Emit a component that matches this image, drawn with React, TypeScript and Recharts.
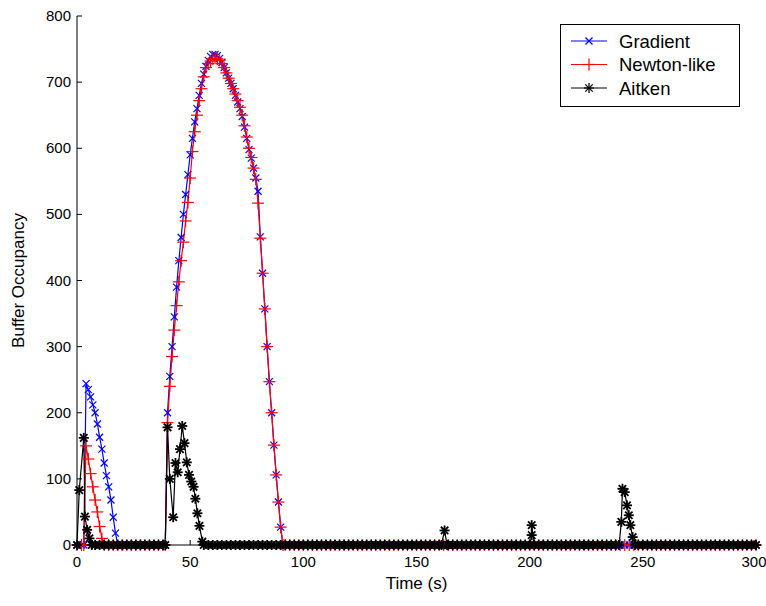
import React from 'react';
import { LineChart, Line, XAxis, YAxis, Legend } from 'recharts';

// quiet stretches were only logged every 2 s
const QUIET_STEP = 2;
const T_END = 300;

const xTicks = [0, 50, 100, 150, 200, 250, 300];
const yTicks = [0, 100, 200, 300, 400, 500, 600, 700, 800];

// Gradient, 1 s samples while the buffer is busy
const gradientEarlyStart = 3;
const gradientEarly = [0, 244, 235, 224, 212, 200, 183, 163, 145, 124, 105, 88, 68, 42, 18, 0];
const gradientMainStart = 39;
const gradientMain = [
  0, 200, 255, 300, 345, 390, 430, 465, 500, 530, 560, 590, 615, 640, 660, 680, 698, 712, 724, 733,
  739, 742, 742, 740, 736, 730, 722, 714, 706, 698, 690, 680, 670, 660, 648, 632, 615, 598, 585, 570,
  555, 535, 466, 411, 357, 300, 247, 200, 151, 106, 65, 27, 0,
];

// Newton-like
const newtonEarlyStart = 3;
const newtonEarly = [0, 150, 130, 108, 88, 68, 50, 28, 10, 0];
const newtonMainStart = 39;
const newtonMain = [
  0, 185, 240, 285, 325, 362, 398, 430, 458, 490, 518, 555, 595, 625, 650, 672, 690, 708, 722, 728,
  732, 735, 736, 735, 733, 728, 722, 714, 706, 698, 690, 682, 672, 662, 650, 634, 617, 600, 586, 570,
  553, 517, 464, 411, 357, 300, 247, 200, 151, 106, 65, 27, 0,
];

// Aitken, [time, buffer] - irregular sample times
const aitkenEarly = [[0, 0], [1, 83], [3, 162], [3.5, 43], [4.5, 23], [5.5, 10], [6.5, 0]];
const aitkenMain = [
  [39, 0], [40, 178], [41, 100], [42.5, 42], [43.5, 124], [44.5, 110], [45.5, 145], [46.5, 180],
  [47.5, 154], [48.5, 125], [49.5, 106], [50.5, 96], [51.5, 88], [52.3, 70], [53.2, 48], [54.1, 29],
  [55.4, 5], [56, 0],
];
const aitkenSpike1 = [[161, 0], [162.4, 22], [163.5, 0]];
const aitkenSpike2 = [[200, 0], [200.9, 15], [200.9, 30], [202, 0]];
const aitkenSpike3 = [[239.5, 0], [240.5, 35], [241, 85], [242, 80], [243, 60], [243.8, 45], [244.5, 30], [245.5, 12], [246.5, 0]];

type Pt = { t: number; v: number };

const fromRun = (start: number, values: number[]): Pt[] => values.map((v, i) => ({ t: start + i, v }));
const fromPairs = (pairs: number[][]): Pt[] => pairs.map(([t, v]) => ({ t, v }));

// zero samples outside the busy periods
const withQuiet = (bursts: Pt[][]): Pt[] => {
  const spans = bursts.map((b) => [b[0].t, b[b.length - 1].t]);
  const quiet: Pt[] = [];
  for (let t = 0; t <= T_END; t += QUIET_STEP) {
    if (!spans.some(([a, b]) => t >= a && t <= b)) quiet.push({ t, v: 0 });
  }
  return [...quiet, ...bursts.flat()].sort((a, b) => a.t - b.t);
};

const gradientData = withQuiet([fromRun(gradientEarlyStart, gradientEarly), fromRun(gradientMainStart, gradientMain)]);
const newtonData = withQuiet([fromRun(newtonEarlyStart, newtonEarly), fromRun(newtonMainStart, newtonMain)]);
const aitkenData = withQuiet([
  fromPairs(aitkenEarly),
  fromPairs(aitkenMain),
  fromPairs(aitkenSpike1),
  fromPairs(aitkenSpike2),
  fromPairs(aitkenSpike3),
]);

const FONT = '"Liberation Sans", Arial, Helvetica, sans-serif';
const BLUE = '#0000ff';
const RED = '#ff0000';

const XMark = ({ cx, cy, color }: any) => (
  <g stroke={color} strokeWidth={1.2}>
    <line x1={cx - 3.5} y1={cy - 3.5} x2={cx + 3.5} y2={cy + 3.5} />
    <line x1={cx - 3.5} y1={cy + 3.5} x2={cx + 3.5} y2={cy - 3.5} />
  </g>
);

const PlusMark = ({ cx, cy, color }: any) => (
  <g stroke={color} strokeWidth={1.2}>
    <line x1={cx - 6} y1={cy} x2={cx + 6} y2={cy} />
    <line x1={cx} y1={cy - 6} x2={cx} y2={cy + 6} />
  </g>
);

const StarMark = ({ cx, cy, color, w = 1.8 }: any) => (
  <g stroke={color} strokeWidth={w}>
    <line x1={cx - 5} y1={cy} x2={cx + 5} y2={cy} />
    <line x1={cx} y1={cy - 5} x2={cx} y2={cy + 5} />
    <line x1={cx - 3.7} y1={cy - 3.7} x2={cx + 3.7} y2={cy + 3.7} />
    <line x1={cx - 3.7} y1={cy + 3.7} x2={cx + 3.7} y2={cy - 3.7} />
  </g>
);

const legendItems = [
  { name: 'Gradient', color: BLUE, Mark: XMark },
  { name: 'Newton-like', color: RED, Mark: PlusMark },
  { name: 'Aitken', color: '#000', Mark: StarMark },
];

const LegendBox = () => (
  <svg width={180} height={83} style={{ display: 'block' }}>
    <rect x={0.5} y={0.5} width={179} height={82} fill="#fff" stroke="#000" />
    {legendItems.map((it, i) => (
      <g key={it.name} transform={`translate(0, ${17 + i * 23.5})`}>
        <line x1={11} x2={47} y1={0} y2={0} stroke={it.color} />
        <it.Mark cx={29} cy={0} color={it.color} w={1.2} />
        <text x={59} y={6.5} fontSize={18.5} fontFamily={FONT} fill="#000">
          {it.name}
        </text>
      </g>
    ))}
  </svg>
);

const BottomTick = ({ x, y, payload }: any) => (
  <g>
    <line x1={x} y1={y} x2={x} y2={y - 5} stroke="#000" />
    <text x={x} y={y + 22} textAnchor="middle" fontSize={15} fontFamily={FONT} fill="#000">
      {payload.value}
    </text>
  </g>
);

const LeftTick = ({ x, y, payload }: any) => (
  <g>
    <line x1={x} y1={y} x2={x + 5} y2={y} stroke="#000" />
    <text x={x - 6} y={y + 5} textAnchor="end" fontSize={15} fontFamily={FONT} fill="#000">
      {payload.value}
    </text>
  </g>
);

const TopTick = ({ x, y }: any) => <line x1={x} y1={y} x2={x} y2={y + 5} stroke="#000" />;
const RightTick = ({ x, y }: any) => <line x1={x} y1={y} x2={x - 5} y2={y} stroke="#000" />;

export default function App() {
  return (
    <div style={{ position: 'absolute', left: 0, top: 0, width: 766, height: 606, background: '#fff' }}>
      <LineChart width={766} height={606} margin={{ top: 16, right: 10, left: 8, bottom: 16 }}>
        <XAxis
          dataKey="t"
          type="number"
          domain={[0, 300]}
          ticks={xTicks}
          tickSize={0}
          tickMargin={0}
          tick={<BottomTick />}
          height={45}
          stroke="#000"
          label={{ value: 'Time (s)', position: 'insideBottom', offset: 1, fontSize: 17, fontFamily: FONT, fill: '#000' }}
        />
        <XAxis
          xAxisId="top"
          orientation="top"
          type="number"
          domain={[0, 300]}
          ticks={xTicks}
          tickSize={0}
          tickMargin={0}
          tick={<TopTick />}
          height={0}
          stroke="#000"
        />
        <YAxis
          type="number"
          domain={[0, 800]}
          ticks={yTicks}
          tickSize={0}
          tickMargin={0}
          tick={<LeftTick />}
          width={69}
          stroke="#000"
          label={{
            value: 'Buffer Occupancy',
            angle: -90,
            position: 'insideLeft',
            offset: 10,
            fontSize: 17,
            fontFamily: FONT,
            fill: '#000',
            style: { textAnchor: 'middle' },
          }}
        />
        <YAxis
          yAxisId="right"
          orientation="right"
          type="number"
          domain={[0, 800]}
          ticks={yTicks}
          tickSize={0}
          tickMargin={0}
          tick={<RightTick />}
          width={0}
          stroke="#000"
        />
        <Legend
          layout="vertical"
          verticalAlign="middle"
          align="center"
          content={() => <LegendBox />}
          wrapperStyle={{ position: 'absolute', left: 560, top: 24, width: 180, height: 83 }}
        />
        <Line
          data={gradientData}
          dataKey="v"
          name="Gradient"
          type="linear"
          stroke={BLUE}
          strokeWidth={1.2}
          dot={(p: any) => <XMark key={`g${p.index}`} cx={p.cx} cy={p.cy} color={BLUE} />}
          activeDot={false}
          isAnimationActive={false}
        />
        <Line
          data={newtonData}
          dataKey="v"
          name="Newton-like"
          type="linear"
          stroke={RED}
          strokeWidth={1.2}
          dot={(p: any) => <PlusMark key={`n${p.index}`} cx={p.cx} cy={p.cy} color={RED} />}
          activeDot={false}
          isAnimationActive={false}
        />
        <Line
          data={aitkenData}
          dataKey="v"
          name="Aitken"
          type="linear"
          stroke="#000"
          strokeWidth={1.2}
          dot={(p: any) => <StarMark key={`a${p.index}`} cx={p.cx} cy={p.cy} color="#000" />}
          activeDot={false}
          isAnimationActive={false}
        />
      </LineChart>
    </div>
  );
}
